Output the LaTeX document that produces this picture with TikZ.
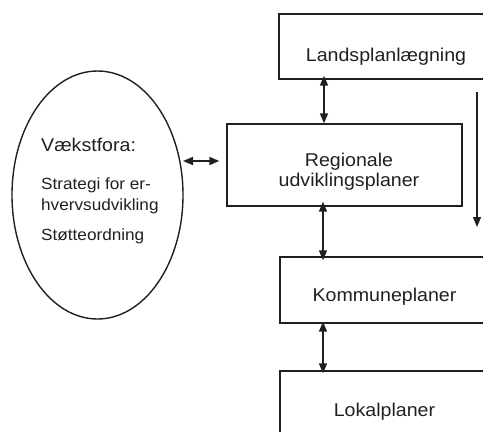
\documentclass[tikz,border=0pt]{standalone}
\usepackage{fontspec}
\setmainfont{Liberation Sans}[FakeStretch=1.06]
\usetikzlibrary{arrows.meta,shapes.geometric}
\definecolor{ink}{HTML}{231F20}
\begin{document}
\begin{tikzpicture}[x=1pt,y=-1pt,
  every node/.style={text=ink},
  planbox/.style={draw=ink,line width=1.4pt,rectangle,inner sep=0pt},
  lbl/.style={anchor=base,font=\fontsize{18.5}{20}\selectfont,inner sep=0pt},
  small/.style={anchor=base west,font=\fontsize{16.2}{18}\selectfont,inner sep=0pt},
  link/.style={draw=ink,line width=1.6pt,{Triangle[length=10pt,width=8pt]}-{Triangle[length=10pt,width=8pt]}},
  down/.style={draw=ink,line width=1.6pt,-{Triangle[length=10pt,width=8pt]}}]
\useasboundingbox (0,0) rectangle (483,432);

% planning levels
\node[planbox,minimum width=214pt,minimum height=65pt] (lands) at (386,46.5) {};
\node[planbox,minimum width=235pt,minimum height=82pt] (reg) at (344.5,165) {};
\node[planbox,minimum width=208pt,minimum height=66pt] (komm) at (384,290) {};
\node[planbox,minimum width=208pt,minimum height=70pt] (lok) at (384,406) {};

\node[lbl] (landsT) at (386,61) {Landsplanlægning};
\node[lbl] (regT1) at (349,166.7) {Regionale};
\node[lbl] (regT2) at (349,186.7) {udviklingsplaner};
\node[lbl] (kommT) at (384.5,301.7) {Kommuneplaner};
\node[lbl] (lokT) at (384.5,416.7) {Lokalplaner};

% growth forum
\node[draw=ink,line width=1.4pt,ellipse,inner sep=0pt,minimum width=171pt,minimum height=248pt] (vf) at (97.5,195) {};
\node[anchor=base west,font=\fontsize{18.5}{20}\selectfont,inner sep=0pt] (vfT) at (41,151.7) {Vækstfora:};
\node[small] (vf1) at (41,189.3) {Strategi for er-};
\node[small] (vf2) at (41,210) {hvervsudvikling};
\node[small] (vf3) at (41,240) {Støtteordning};

% connectors
\coordinate (xa) at (324,0);
\coordinate (xb) at (323,0);
\draw[link] ([yshift=4]lands.south -| xa) -- (reg.north -| xa);
\draw[link] ([yshift=5]reg.south -| xb) -- ([yshift=-4]komm.north -| xb);
\draw[link] ([yshift=2]komm.south -| xb) -- ([yshift=-3]lok.north -| xb);
\coordinate (vfE) at (183,161);
\draw[link] (vfE) -- ([xshift=-7]reg.west |- vfE);
\coordinate (topR) at (477,92);
\coordinate (botR) at (477,227);
\draw[down] (topR) -- (botR);
\end{tikzpicture}
\end{document}
